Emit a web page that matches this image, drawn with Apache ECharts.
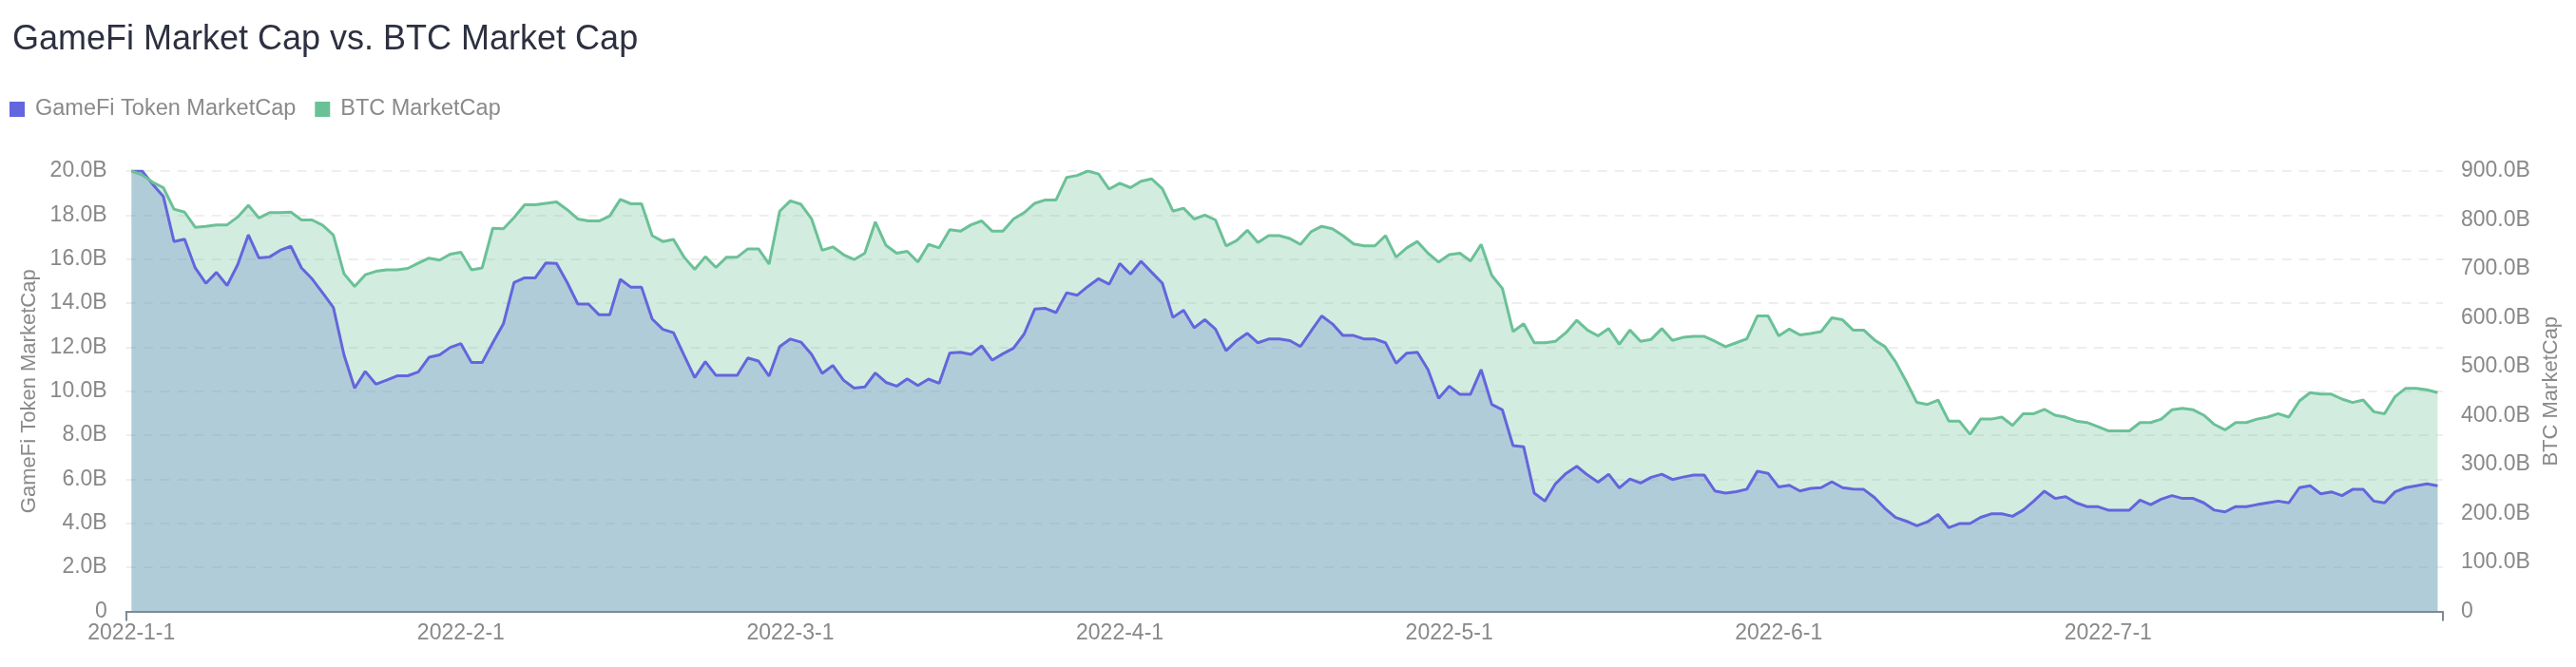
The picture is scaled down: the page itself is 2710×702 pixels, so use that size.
<!DOCTYPE html>
<html>
<head>
<meta charset="utf-8">
<script src="https://cdn.jsdelivr.net/npm/echarts@6/dist/echarts.min.js"></script>
<style>
html,body{margin:0;padding:0;background:#ffffff;}
#chart{width:2710px;height:702px;}
</style>
</head>
<body>
<div id="chart"></div>
<script>
const titleText = 'GameFi Market Cap vs. BTC Market Cap';
const seriesNames = ['GameFi Token MarketCap', 'BTC MarketCap'];
const axisNames = ['GameFi Token MarketCap', 'BTC MarketCap'];
const monthStarts = ['2022-1-1', '2022-2-1', '2022-3-1', '2022-4-1', '2022-5-1', '2022-6-1', '2022-7-1', '2022-8-1'];
const slotsPerMonth = 31;

// GameFi token market cap, billions USD (218 points)
const gamefi = [
  20.0, 20.0, 19.4, 18.85, 16.8, 16.9, 15.6, 14.9, 15.4, 14.8,
  15.75, 17.1, 16.05, 16.1, 16.4, 16.58, 15.6, 15.1, 14.46, 13.8,
  11.65, 10.14, 10.9, 10.32, 10.5, 10.7, 10.7, 10.88, 11.54, 11.65,
  11.99, 12.16, 11.3, 11.3, 12.2,
  13.06, 14.94, 15.15, 15.15, 15.83, 15.80, 14.94, 13.96, 13.96, 13.47,
  13.47, 15.08, 14.72, 14.72, 13.28, 12.81, 12.66, 11.63, 10.62, 11.34,
  10.72, 10.72, 10.72, 11.51, 11.37, 10.69, 12.03, 12.37, 12.23, 11.67,
  10.81, 11.17, 10.50, 10.14, 10.19, 10.83, 10.40, 10.23, 10.56, 10.26,
  10.55, 10.36, 11.74, 11.77, 11.67, 12.06, 11.41, 11.70, 11.96, 12.60,
  13.73, 13.76, 13.57, 14.47, 14.36, 14.76, 15.11, 14.86, 15.80, 15.32,
  15.90, 15.40, 14.91, 13.35, 13.68, 12.88, 13.25, 12.82, 11.84, 12.30,
  12.63, 12.20, 12.37, 12.37, 12.30, 12.03, 12.73, 13.42, 13.06, 12.53,
  12.53, 12.37, 12.37, 12.20, 11.27, 11.73, 11.77, 10.98, 9.68, 10.23,
  9.86, 9.86, 10.98, 9.40, 9.15, 7.53, 7.48, 5.37, 5.01, 5.80,
  6.27, 6.59, 6.20, 5.87, 6.23, 5.61, 6.01, 5.83, 6.09, 6.23,
  5.99, 6.10, 6.19, 6.19, 5.47, 5.37, 5.44, 5.55, 6.37, 6.27,
  5.65, 5.73, 5.47,
  5.59, 5.62, 5.89, 5.62, 5.56, 5.54, 5.18, 4.68, 4.27, 4.10,
  3.89, 4.07, 4.40, 3.80, 3.99, 3.99, 4.27, 4.43, 4.43, 4.32,
  4.60, 5.01, 5.46, 5.13, 5.21, 4.93, 4.76, 4.76, 4.60, 4.60,
  4.60, 5.05, 4.85, 5.10, 5.26, 5.13, 5.13, 4.93, 4.60, 4.52,
  4.76, 4.76, 4.85, 4.93, 5.01, 4.93, 5.62, 5.71, 5.34, 5.43,
  5.26, 5.54, 5.54, 5.01, 4.93, 5.43, 5.62, 5.71, 5.79, 5.71
];

// BTC market cap, billions USD (218 points)
const btc = [
  900, 892, 877, 866, 822, 816, 785, 787, 790, 790,
  806, 830, 804, 815, 815, 816, 800, 800, 789, 769,
  690, 664, 688, 695, 698, 698, 701, 712, 722, 718,
  730, 734, 698, 702, 783,
  782, 805, 831, 831, 834, 837, 821, 802, 798, 798,
  808, 842, 833, 833, 768, 756, 760, 724, 699, 725,
  703, 724, 724, 741, 741, 710, 818, 839, 832, 802,
  738, 745, 729, 719, 732, 796, 748, 732, 736, 714,
  750, 743, 780, 777, 790, 798, 777, 777, 802, 815,
  834, 841, 841, 887, 891, 900, 894, 863, 875, 866,
  879, 884, 864, 818, 824, 802, 810, 800, 747, 758,
  779, 754, 768, 768, 762, 750, 776, 787, 782, 768,
  751, 747, 747, 768, 724, 743, 756, 732, 714, 729,
  732, 716, 750, 687, 660, 572, 588, 549, 549, 552,
  570, 595, 575, 563, 578, 546, 575, 552, 556, 578,
  554, 560, 562, 562, 552, 541, 549, 557, 604, 604,
  563, 577, 565,
  568, 572, 600, 596, 575, 575, 555, 541, 510, 470,
  427, 423, 432, 389, 389, 362, 393, 393, 397, 380,
  404, 404, 413, 401, 397, 389, 386, 378, 369, 369,
  369, 386, 386, 393, 412, 415, 412, 401, 382, 371,
  386, 386, 393, 397, 404, 397, 430, 447, 444, 444,
  434, 427, 432, 408, 404, 439, 456, 456, 453, 447
];

// category slots: each month block starts with its month-start label
const categories = [];
for (let m = 0; m < monthStarts.length - 1; m++) {
  const prefix = monthStarts[m].slice(0, monthStarts[m].lastIndexOf('-'));
  for (let d = 1; d <= slotsPerMonth; d++) categories.push(prefix + '-' + d);
}
categories.push(monthStarts[monthStarts.length - 1]);

const colors = ['#6366dc', '#6bc197'];
const fmt = v => (v === 0 ? '0' : v.toFixed(1) + 'B');
const FONT = '"Liberation Sans", Arial, Helvetica, sans-serif';

const chart = echarts.init(document.getElementById('chart'));
chart.setOption({
  animation: false,
  color: colors,
  textStyle: { fontFamily: FONT },
  title: {
    text: titleText,
    left: 8,
    top: 19,
    textStyle: { fontSize: 36, fontWeight: 'normal', color: '#2d3040', fontFamily: FONT }
  },
  legend: {
    data: seriesNames,
    left: 10,
    top: 103,
    padding: 0,
    icon: 'rect',
    itemWidth: 16,
    itemHeight: 16,
    itemGap: 20,
    textStyle: { fontSize: 23.5, color: '#8a8a8a', padding: [0, 0, 0, 6], fontFamily: FONT }
  },
  grid: { left: 132.7, right: 140, top: 180, bottom: 58.5, containLabel: false },
  xAxis: {
    type: 'category',
    data: categories,
    boundaryGap: true,
    axisLine: { show: true, lineStyle: { color: '#7f8993', width: 2 } },
    axisTick: { show: true, interval: i => i === 0, length: 10, lineStyle: { color: '#7f8993', width: 2 } },
    axisLabel: {
      interval: i => i % slotsPerMonth === 0 && i < categories.length - 1,
      fontSize: 23, color: '#888888', margin: 12, fontFamily: FONT
    },
    splitLine: { show: false }
  },
  yAxis: [
    {
      type: 'value',
      min: 0, max: 20, interval: 2,
      name: axisNames[0],
      nameLocation: 'middle',
      nameGap: 87,
      nameTextStyle: { fontSize: 22, color: '#8a8a8a', fontFamily: FONT },
      axisLine: { show: false },
      axisTick: { show: false },
      axisLabel: { formatter: fmt, fontSize: 23, color: '#888888', margin: 20, fontFamily: FONT },
      splitLine: { show: true, lineStyle: { type: [10, 8], color: '#eeeeee', width: 2 } }
    },
    {
      type: 'value',
      min: 0, max: 900, interval: 100,
      name: axisNames[1],
      nameLocation: 'middle',
      nameGap: 103,
      nameTextStyle: { fontSize: 22, color: '#8a8a8a', fontFamily: FONT },
      axisLine: { show: false },
      axisTick: { show: false },
      axisLabel: { formatter: fmt, fontSize: 23, color: '#888888', margin: 19, fontFamily: FONT },
      splitLine: { show: false }
    }
  ],
  series: [
    {
      name: seriesNames[0],
      type: 'line',
      yAxisIndex: 0,
      data: gamefi,
      showSymbol: false,
      symbol: 'none',
      lineStyle: { width: 3, color: colors[0] },
      itemStyle: { color: colors[0] },
      areaStyle: { color: colors[0], opacity: 0.3 }
    },
    {
      name: seriesNames[1],
      type: 'line',
      yAxisIndex: 1,
      data: btc,
      showSymbol: false,
      symbol: 'none',
      lineStyle: { width: 3, color: colors[1] },
      itemStyle: { color: colors[1] },
      areaStyle: { color: colors[1], opacity: 0.3 }
    }
  ]
});
</script>
</body>
</html>
